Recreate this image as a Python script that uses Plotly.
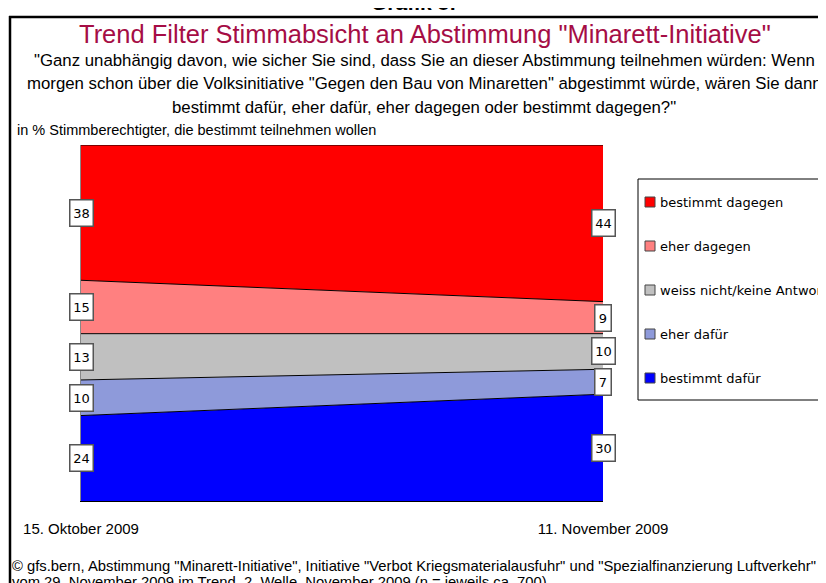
import plotly.graph_objects as go

# ---- data ----
dates = ["15. Oktober 2009", "11. November 2009"]
series_names = ["bestimmt dafür", "eher dafür", "weiss nicht/keine Antwort",
                "eher dagegen", "bestimmt dagegen"]
bestimmt_dafuer = [24, 30]
eher_dafuer = [10, 7]
weiss_nicht = [13, 10]
eher_dagegen = [15, 9]
bestimmt_dagegen = [38, 44]
series_values = [bestimmt_dafuer, eher_dafuer, weiss_nicht, eher_dagegen, bestimmt_dagegen]
colors = ["#0000FF", "#8E9ADA", "#C0C0C0", "#FF8080", "#FF0000"]

title_text = 'Trend Filter Stimmabsicht an Abstimmung "Minarett-Initiative"'
question_lines = [
    '"Ganz unabhängig davon, wie sicher Sie sind, dass Sie an dieser Abstimmung teilnehmen würden: Wenn',
    'morgen schon über die Volksinitiative "Gegen den Bau von Minaretten" abgestimmt würde, wären Sie dann',
    'bestimmt dafür, eher dafür, eher dagegen oder bestimmt dagegen?"',
]
unit_text = "in % Stimmberechtigter, die bestimmt teilnehmen wollen"
footer_lines = [
    '© gfs.bern, Abstimmung "Minarett-Initiative", Initiative "Verbot Kriegsmaterialausfuhr" und "Spezialfinanzierung Luftverkehr"',
    'vom 29. November 2009 im Trend, 2. Welle, November 2009 (n = jeweils ca. 700)',
]

# ---- layout geometry (page pixels; page body has an 8px margin) ----
W, H = 826, 583
OFF = 8
L, R, T, B = 81, 603, 145, 501
TXT = "Liberation Sans, Arial, sans-serif"
SANS = "DejaVu Sans, Verdana, sans-serif"


def px_x(x):
    return (x - L) / (R - L)


def px_y(y):
    return (B - y) / (B - T)


fig = go.Figure()
for name, vals, col in zip(series_names, series_values, colors):
    fig.add_trace(go.Scatter(
        x=dates, y=vals, name=name, mode="lines", stackgroup="one",
        fillcolor=col, line=dict(color="black", width=1),
        showlegend=False, hoverinfo="x+y+name",
    ))

annotations = []
# value labels
for side in (0, 1):
    base = 0
    for vals in series_values:
        v = vals[side]
        annotations.append(dict(
            x=dates[side], y=base + v / 2, xref="x", yref="y",
            text=str(v), showarrow=False, xanchor="center", yanchor="middle",
            font=dict(family=SANS, size=13, color="black"),
            bgcolor="white", bordercolor="#555555", borderwidth=1.5,
            width=8 + 7 * len(str(v)), height=25, borderpad=0,
        ))
        base += v

# titles
annotations.append(dict(text="<b>Grafik 8:</b>", x=px_x(413), y=px_y(2), xref="paper", yref="paper",
                        showarrow=False, xanchor="center", yanchor="middle",
                        font=dict(family=TXT, size=21, color="black")))
annotations.append(dict(text=title_text, x=px_x(425), y=px_y(34), xref="paper", yref="paper",
                        showarrow=False, xanchor="center", yanchor="middle",
                        font=dict(family=TXT, size=25.5, color="#A50D45")))
for i, line in enumerate(question_lines):
    annotations.append(dict(text=line, x=px_x(424), y=px_y(60 + i * 23.5), xref="paper", yref="paper",
                            showarrow=False, xanchor="center", yanchor="middle",
                            font=dict(family=TXT, size=16.8, color="black")))
annotations.append(dict(text=unit_text, x=px_x(15), y=px_y(130), xref="paper", yref="paper",
                        showarrow=False, xanchor="left", yanchor="middle",
                        font=dict(family=TXT, size=14.5, color="black")))
for i, line in enumerate(footer_lines):
    annotations.append(dict(text=line, x=px_x(10), y=px_y(566 + i * 16), xref="paper", yref="paper",
                            showarrow=False, xanchor="left", yanchor="middle",
                            font=dict(family=TXT, size=14.8, color="black")))

shapes = []
# outer frame (top and left edges; the others are outside the picture)
shapes.append(dict(type="line", xref="paper", yref="paper",
                   x0=px_x(9), x1=px_x(850), y0=px_y(17), y1=px_y(17),
                   line=dict(color="black", width=2.5), layer="above"))
shapes.append(dict(type="line", xref="paper", yref="paper",
                   x0=px_x(10), x1=px_x(10), y0=px_y(16), y1=px_y(620),
                   line=dict(color="black", width=2.5), layer="above"))
# legend box
shapes.append(dict(type="rect", xref="paper", yref="paper",
                   x0=px_x(638), x1=px_x(860), y0=px_y(179), y1=px_y(400),
                   line=dict(color="black", width=1), fillcolor="white"))
leg_names = list(reversed(series_names))
leg_cols = list(reversed(colors))
for i, (nm, col) in enumerate(zip(leg_names, leg_cols)):
    cy = 202 + i * 44
    shapes.append(dict(type="rect", xref="paper", yref="paper",
                       x0=px_x(645), x1=px_x(655), y0=px_y(cy - 5), y1=px_y(cy + 5),
                       line=dict(color="#444444", width=1), fillcolor=col))
    annotations.append(dict(text=nm, x=px_x(658), y=px_y(cy), xref="paper", yref="paper",
                            showarrow=False, xanchor="left", yanchor="middle",
                            font=dict(family=SANS, size=13, color="black")))

fig.update_layout(
    width=W, height=H,
    margin=dict(l=L - OFF, r=W + OFF - R, t=T - OFF, b=H + OFF - B),
    paper_bgcolor="white", plot_bgcolor="white",
    showlegend=False,
    annotations=annotations, shapes=shapes,
    xaxis=dict(type="category", range=[0, 1], showgrid=False, zeroline=False,
               showline=True, linecolor="black", linewidth=1,
               ticks="outside", ticklen=14, tickcolor="rgba(0,0,0,0)",
               tickfont=dict(family=TXT, size=15, color="black")),
    yaxis=dict(range=[0, 100], showgrid=False, zeroline=False, showticklabels=False,
               showline=True, linecolor="#888888", linewidth=1, ticks=""),
)

fig.write_html("out.html")
